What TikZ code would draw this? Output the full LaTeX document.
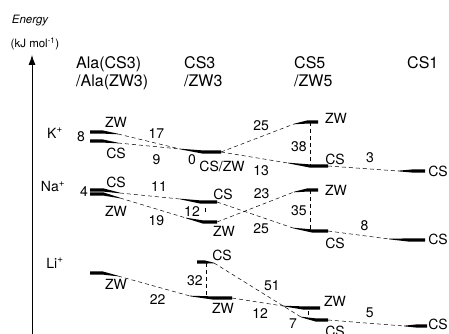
\documentclass[tikz,border=0pt]{standalone}
\usepackage{fontspec}
\setmainfont{TeX Gyre Heros}
\usetikzlibrary{arrows.meta}

% level bar, thick at the left end: name, x1, x2, y, drop of the tail
\newcommand{\barL}[5]{%
  \fill (#2,#4-1.6) -- ({#2+0.45*(#3-#2)},#4-1.6) -- (#3,#4+#5-0.3)
    -- (#3,#4+#5+0.3) -- ({#2+0.45*(#3-#2)},#4+1.6) -- (#2,#4+1.6) -- cycle;
  \coordinate (#1-l) at (#2,#4);
  \coordinate (#1-r) at (#3,#4+#5);}
% level bar, thick at the right end
\newcommand{\barR}[5]{%
  \fill (#3,#4-1.6) -- ({#3-0.45*(#3-#2)},#4-1.6) -- (#2,#4+#5-0.3)
    -- (#2,#4+#5+0.3) -- ({#3-0.45*(#3-#2)},#4+1.6) -- (#3,#4+1.6) -- cycle;
  \coordinate (#1-l) at (#2,#4+#5);
  \coordinate (#1-r) at (#3,#4);}

\begin{document}
\begin{tikzpicture}[x=1pt, y=-1pt,
    lbl/.style={inner sep=0pt, font=\fontsize{14}{14}\selectfont},
    hdr/.style={inner sep=0pt, align=left, anchor=north west,
                font=\fontsize{16}{18}\selectfont},
    conn/.style={line width=0.5pt, dash pattern=on 4pt off 3pt},
    axis/.style={line width=0.8pt, -{Latex[length=10pt,width=7pt]}}]
    \useasboundingbox (0,0) rectangle (449,334);

    % axis
    \coordinate (ax0) at (32,334);
    \coordinate (ax1) at (32,55);
    \draw[axis] (ax0) -- (ax1);
    \node[inner sep=0pt, font=\fontsize{11.5}{12}\selectfont\itshape] (en) at (30,21) {Energy};
    \node[inner sep=0pt, font=\fontsize{11.5}{12}\selectfont] (unit) at (35,44) {(kJ mol\textsuperscript{-1})};

    % column heads
    \node[hdr] (hA)  at (76,56)  {Ala(CS3)\\/Ala(ZW3)};
    \node[hdr] (hC3) at (184,56) {CS3\\/ZW3};
    \node[hdr] (hC5) at (294,56) {CS5\\/ZW5};
    \node[hdr] (hC1) at (407,56) {CS1};

    % K+
    \node[lbl] (kion) at (55,133) {K\textsuperscript{+}};
    \node[lbl] (k8) at (81,137) {8};
    \barL{kAz}{90}{118}{132}{2}
    \barL{kAc}{90}{118}{141}{2}
    \barR{kC3}{180}{221}{152}{-3}
    \barR{kC5z}{294}{318}{122}{2}
    \barR{kC5c}{288}{328}{166}{-3}
    \barR{kC1}{398}{425}{171}{0}
    \node[lbl] (kAzt) at (116,122) {ZW};
    \node[lbl] (kAct) at (116,153) {CS};
    \node[lbl] (kC3t) at (222,166) {CS/ZW};
    \node[lbl] (k0) at (192,160) {0};
    \node[lbl] (kC5zt) at (336,118) {ZW};
    \node[lbl] (kC5ct) at (335,159) {CS};
    \node[lbl] (kC1t) at (438,171) {CS};
    \draw[conn] (kAz-r) -- (kC3-l) node[lbl, pos=0.62, above=5pt] (k17) {17};
    \draw[conn] (kAc-r) -- (kC3-l) node[lbl, pos=0.62, below=8pt] (k9) {9};
    \draw[conn] (kC3-r) -- (kC5z-l) node[lbl, pos=0.55, above=6pt] (k25) {25};
    \draw[conn] (kC3-r) -- (kC5c-l) node[lbl, pos=0.6, below=7pt] (k13) {13};
    \draw[conn] (kC5c-r) -- (kC1-l) node[lbl, pos=0.6, above=6pt] (k3) {3};
    \draw[conn] ([xshift=-8pt]kC5z-r) -- ([xshift=-8pt]kC5z-r |- kC5c-r)
        node[lbl, pos=0.55, left=3pt] (k38) {38};

    % Na+
    \node[lbl] (nion) at (53,187) {Na\textsuperscript{+}};
    \node[lbl] (n4) at (84,192) {4};
    \barL{nAc}{90}{120}{190}{3}
    \barL{nAz}{90}{120}{194}{4}
    \barR{nC3c}{180}{217}{202}{-3}
    \barR{nC3z}{186}{217}{222}{-4}
    \barR{nC5z}{294}{318}{190}{2}
    \barR{nC5c}{293}{328}{231}{-3}
    \barR{nC1}{389}{425}{240}{-1}
    \node[lbl] (nAct) at (116,182) {CS};
    \node[lbl] (nAzt) at (116,211) {ZW};
    \node[lbl] (nC3ct) at (223,194) {CS};
    \node[lbl] (nC3zt) at (224,231) {ZW};
    \node[lbl] (n12) at (192,212) {12};
    \node[lbl] (nC5zt) at (336,190) {ZW};
    \node[lbl] (nC5ct) at (335,243) {CS};
    \node[lbl] (nC1t) at (438,239) {CS};
    \draw[conn] (nAc-r) -- (nC3c-l) node[lbl, pos=0.65, above=5pt] (n11) {11};
    \draw[conn] (nAz-r) -- (nC3z-l) node[lbl, pos=0.55, below=6pt] (n19) {19};
    \draw[conn] (nC3c-r) -- (nC5c-l) node[lbl, pos=0.58, below=6pt] (n25) {25};
    \draw[conn] (nC3z-r) -- (nC5z-l) node[lbl, pos=0.58, above=6pt] (n23) {23};
    \draw[conn] (nC5c-r) -- (nC1-l) node[lbl, pos=0.6, above=5pt] (n8) {8};
    \draw[conn] ([xshift=-8pt]nC5z-r) -- ([xshift=-8pt]nC5z-r |- nC5c-r)
        node[lbl, pos=0.5, left=3pt] (n35) {35};
    \draw[conn] ([xshift=-12pt,yshift=-6pt]nC3c-r) -- ([xshift=-12pt,yshift=-13pt]nC3c-r);

    % Li+
    \node[lbl] (lion) at (55,263) {Li\textsuperscript{+}};
    \barL{lAz}{90}{118}{273}{3}
    \barL{lC3c}{197}{214}{262}{1}
    \barR{lC3z}{190}{232}{298}{-2}
    \barR{lC5z}{283}{320}{308}{-2}
    \barR{lC5c}{301}{328}{320}{-3}
    \barR{lC1}{404}{427}{326}{0}
    \node[lbl] (lAzt) at (116,284) {ZW};
    \node[lbl] (lC3ct) at (222,255) {CS};
    \node[lbl] (lC3zt) at (223,308) {ZW};
    \node[lbl] (lC5zt) at (335,301) {ZW};
    \node[lbl] (lC5ct) at (335,331) {CS};
    \node[lbl] (lC1t) at (438,324) {CS};
    \node[lbl] (l7) at (293,324) {7};
    \draw[conn] (lAz-r) -- (lC3z-l) node[lbl, pos=0.55, below=7pt] (l22) {22};
    \draw[conn] (lC3c-r) -- (lC5c-l) node[lbl, pos=0.55, above right=2pt] (l51) {51};
    \draw[conn] (lC3z-r) -- (lC5z-l) node[lbl, pos=0.55, below=6pt] (l12) {12};
    \draw[conn] (lC5c-r) -- (lC1-l) node[lbl, pos=0.55, above=5pt] (l5) {5};
    \draw[conn] ([xshift=-8pt]lC3c-r) -- ([xshift=-8pt]lC3c-r |- lC3z-r)
        node[lbl, pos=0.5, left=3pt] (l32) {32};
    \draw[conn] ([xshift=-12pt,yshift=-3pt]lC5z-r) -- ([xshift=-12pt,yshift=-7pt]lC5z-r);
\end{tikzpicture}
\end{document}
